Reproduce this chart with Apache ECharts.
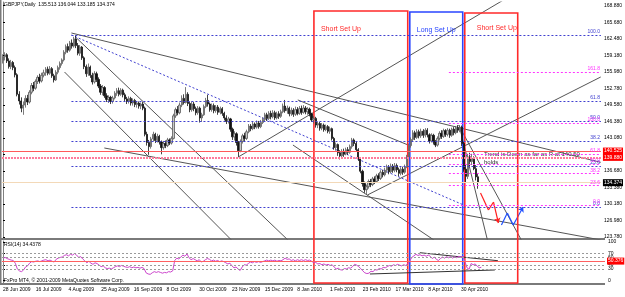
<!DOCTYPE html>
<html>
<head>
<meta charset="UTF-8">
<title>GBPJPY Daily</title>
<script src="https://cdn.jsdelivr.net/npm/echarts@6/dist/echarts.min.js"></script>
<style>html,body{margin:0;padding:0;background:#fff}</style>
</head>
<body>
<div id="main" style="width:625px;height:297px;"></div>
<script>
// bars: [open, close, low, high]
var candles = [
  [158.2,158.9,157.6,159.4],[158.9,159.3,158.2,159.8],[159.3,158.1,157.7,159.6],[158.1,157.0,156.6,158.6],[157.0,157.8,156.5,158.3],
  [157.8,156.8,156.3,158.1],[156.8,155.4,154.9,157.2],[155.4,151.6,151.2,155.7],[151.6,150.3,149.6,152.2],[150.3,148.9,148.1,151.0],
  [148.9,149.5,147.6,150.2],[149.5,150.8,149.0,151.4],[150.8,150.1,149.5,151.5],[150.1,152.0,149.8,152.4],[152.0,153.3,151.6,153.8],
  [153.3,152.8,152.2,154.0],[152.8,154.1,152.5,154.5],[154.1,154.9,153.6,155.3],[154.9,154.2,153.7,155.6],[154.2,155.3,153.9,155.8],
  [155.3,155.8,154.9,156.4],[155.8,156.5,155.2,156.9],[156.5,155.7,155.3,157.0],[155.7,156.6,155.4,157.1],[156.6,155.2,154.8,156.9],
  [155.2,154.4,153.9,155.6],[154.4,155.9,154.2,156.3],[155.9,156.8,155.5,157.2],[156.8,157.6,156.4,158.0],[157.6,158.3,157.2,158.6],
  [158.3,159.8,158.0,160.2],[159.8,160.9,159.4,161.3],[160.9,160.2,159.7,161.5],[160.2,161.6,159.9,162.0],[161.6,161.0,160.5,162.3],
  [161.0,162.4,160.7,162.8],[162.4,161.1,160.6,163.1],[161.1,159.6,159.2,161.6],[159.6,160.8,159.1,161.2],[160.8,158.7,158.3,161.0],
  [158.7,157.0,156.5,159.0],[157.0,155.6,155.0,157.4],[155.6,156.9,155.2,157.6],[156.9,155.3,154.8,157.2],[155.3,154.0,153.5,155.8],
  [154.0,155.6,153.7,156.1],[155.6,154.5,154.0,156.0],[154.5,153.2,152.8,154.9],[153.2,152.0,151.5,153.6],[152.0,152.9,151.4,153.4],
  [152.9,151.3,150.9,153.2],[151.3,150.6,150.1,151.8],[150.6,151.0,149.9,151.4],[151.0,150.2,149.7,151.3],[150.2,150.9,149.8,151.3],
  [150.9,151.8,150.6,152.2],[151.8,152.3,151.3,152.8],[152.3,151.6,151.2,152.9],[151.6,152.4,151.3,152.8],[152.4,151.5,151.0,152.7],
  [151.5,150.7,150.3,151.9],[150.7,150.2,149.7,151.1],[150.2,150.8,149.8,151.2],[150.8,149.9,149.4,151.1],[149.9,150.4,149.4,150.8],
  [150.4,149.6,149.1,150.7],[149.6,149.9,149.0,150.3],[149.9,149.3,148.8,150.2],[149.3,149.7,148.7,150.0],[149.7,148.9,148.5,150.1],
  [148.9,143.8,143.4,149.2],[143.8,142.2,141.6,144.3],[142.2,141.4,139.8,142.7],[141.4,142.9,141.0,143.3],[142.9,143.8,142.4,144.3],
  [143.8,142.6,142.1,144.1],[142.6,143.4,142.2,143.9],[143.4,142.3,141.8,143.7],[142.3,141.2,139.9,142.6],[141.2,142.0,140.8,142.5],
  [142.0,141.6,141.1,142.6],[141.6,142.7,141.3,143.1],[142.7,142.1,141.7,143.0],[142.1,143.0,141.8,143.4],[143.0,147.4,142.8,147.8],
  [147.4,148.6,147.0,149.0],[148.6,148.0,147.5,149.3],[148.0,149.5,147.7,150.0],[149.5,150.8,149.1,151.4],[150.8,150.0,149.6,151.6],
  [150.0,151.6,149.8,153.0],[151.6,149.8,149.3,152.0],[149.8,148.6,148.1,150.2],[148.6,149.7,148.2,150.2],[149.7,148.8,148.3,150.1],
  [148.8,148.0,147.5,149.2],[148.0,148.9,147.6,149.3],[148.9,147.0,146.1,149.2],[147.0,147.6,146.2,148.0],[147.6,149.2,147.4,149.6],
  [149.2,150.4,148.9,150.9],[150.4,149.7,149.2,151.5],[149.7,148.6,148.2,150.0],[148.6,149.4,148.2,149.8],[149.4,148.4,147.9,149.8],
  [148.4,149.1,148.0,149.5],[149.1,148.1,147.6,149.5],[148.1,148.8,147.7,149.2],[148.8,147.9,147.4,149.1],[147.9,147.0,146.5,148.2],
  [147.0,146.3,145.8,147.5],[146.3,146.8,145.9,147.2],[146.8,144.8,144.3,147.0],[144.8,143.3,142.7,145.1],[143.3,143.9,142.6,144.4],
  [143.9,142.2,141.6,144.2],[142.2,140.6,139.4,142.5],[140.6,142.4,140.3,142.8],[142.4,143.5,142.0,143.9],[143.5,143.0,142.5,144.1],
  [143.0,144.3,142.7,144.7],[144.3,145.4,144.0,145.8],[145.4,144.9,144.4,145.8],[144.9,145.8,144.6,146.2],[145.8,145.2,144.8,146.1],
  [145.2,146.0,144.9,146.5],[146.0,145.3,144.9,146.4],[145.3,146.1,145.0,146.6],[146.1,146.7,145.8,147.1],[146.7,147.6,146.3,148.0],
  [147.6,146.9,146.4,148.0],[146.9,147.9,146.6,148.3],[147.9,147.2,146.7,148.4],[147.2,148.0,146.9,148.5],[148.0,147.0,146.6,148.4],
  [147.0,147.8,146.7,148.2],[147.8,147.3,146.8,148.3],[147.3,148.2,147.0,148.6],[148.2,149.3,147.9,149.8],[149.3,148.4,148.0,150.5],
  [148.4,148.9,147.8,149.4],[148.9,147.8,147.3,149.2],[147.8,148.5,147.4,149.0],[148.5,147.7,147.2,148.9],[147.7,148.6,147.4,149.2],
  [148.6,147.9,147.5,149.1],[147.9,148.8,147.6,149.3],[148.8,148.1,147.6,149.4],[148.1,148.9,147.8,149.5],[148.9,148.2,147.7,149.3],
  [148.2,148.7,147.6,149.1],[148.7,147.8,147.3,149.0],[147.8,146.6,146.2,148.0],[146.6,146.9,145.9,147.4],[146.9,145.6,145.1,147.2],
  [145.6,145.9,145.0,146.3],[145.9,145.0,144.5,146.2],[145.0,145.6,144.6,146.0],[145.6,144.7,144.3,145.9],[144.7,145.3,144.4,145.7],
  [145.3,144.4,144.0,145.6],[144.4,144.9,143.9,145.3],[144.9,143.0,142.6,145.1],[143.0,141.2,140.8,143.3],[141.2,141.8,140.6,142.2],
  [141.8,140.2,139.6,142.0],[140.2,139.6,138.9,140.7],[139.6,140.5,139.2,140.9],[140.5,139.9,139.4,141.0],[140.0,140.8,139.7,141.2],
  [140.8,140.3,139.8,141.3],[140.3,141.4,140.0,141.8],[141.4,142.7,141.0,143.1],[142.7,142.0,141.5,143.0],[142.0,140.8,140.4,142.3],
  [140.8,139.0,138.6,141.1],[139.0,136.6,136.2,139.3],[136.6,134.2,133.6,136.9],[134.2,133.0,132.4,134.6],[133.0,133.6,132.0,134.0],
  [133.6,134.6,133.2,135.0],[134.6,134.0,133.5,135.1],[134.0,135.1,133.7,135.5],[135.1,134.6,134.1,135.6],[134.6,135.7,134.3,136.1],
  [135.7,135.2,134.7,136.2],[135.2,136.4,134.9,136.8],[136.4,135.9,135.4,136.9],[135.9,136.8,135.6,137.3],[136.8,137.4,136.3,137.9],
  [137.4,136.5,136.0,137.8],[136.5,137.6,136.2,138.1],[137.6,136.8,136.3,138.0],[136.8,137.7,136.4,138.2],[137.7,136.9,136.4,138.1],
  [136.9,136.2,135.6,137.3],[136.2,137.0,135.8,137.4],[137.0,136.4,135.9,137.5],[136.4,137.5,136.1,137.9],[137.5,139.4,137.2,139.8],
  [139.4,141.6,139.1,142.0],[141.6,142.8,141.2,143.2],[142.8,144.1,142.4,144.6],[144.1,143.2,142.7,144.5],[143.2,144.3,142.9,144.8],
  [144.3,143.5,143.0,144.7],[143.5,144.4,143.1,144.9],[144.4,143.6,143.1,144.8],[143.6,144.6,143.2,145.0],[144.6,143.7,143.2,145.0],
  [143.7,142.5,142.0,144.0],[142.5,143.6,142.2,144.0],[143.6,142.3,141.8,143.9],[142.3,141.7,141.3,142.7],[141.7,143.0,141.4,143.4],
  [143.0,144.0,142.6,144.4],[144.0,143.4,142.9,144.6],[143.4,144.5,143.1,144.9],[144.5,143.8,143.3,144.8],[143.8,144.6,143.4,145.0],
  [144.6,143.6,143.1,144.9],[143.6,144.8,143.3,145.1],[144.8,144.1,143.6,145.2],[144.1,145.0,143.8,145.4],[145.0,144.6,144.1,145.6],
  [144.6,145.2,144.2,145.6],[145.2,142.0,141.5,145.5],[142.0,137.0,136.5,142.3],[137.0,135.6,134.5,138.0],[135.6,139.4,135.1,140.0],
  [139.4,138.5,137.6,140.2],[138.5,139.1,137.8,140.0],[139.1,137.1,136.8,139.5],[137.1,135.5,134.8,137.8],[135.513,134.374,133.185,136.044]
];

var rsi = [
  58,60,57,55,53,52,45,30,25,23, 27,35,38,45,49,48,50,51,49,51,
  53,54,51,53,50,48,55,58,60,61, 65,67,64,68,66,70,66,60,62,56,
  51,46,50,45,42,46,44,40,36,38, 33,31,32,30,33,36,38,36,39,37,
  35,34,36,33,35,33,34,32,34,31, 20,17,16,20,23,21,23,21,19,21,
  20,23,22,25,52,58,56,61,66,63, 69,59,54,57,54,51,54,48,50,54,
  57,55,51,53,50,52,49,51,49,46, 43,45,38,33,35,30,26,35,41,40,
  44,48,46,49,47,49,47,49,51,53, 51,53,51,53,50,52,51,54,58,55,
  56,52,54,51,54,52,54,52,54,52, 53,50,46,47,43,44,41,43,40,42,
  39,41,35,30,32,28,27,31,30,33, 32,36,42,40,36,31,25,20,18,19,
  24,23,28,27,31,30,34,33,36,39, 37,41,39,42,40,38,41,39,43,51,
  60,64,68,65,67,64,66,63,66,63, 57,61,55,52,57,61,58,62,59,62,
  58,62,59,63,61,63,49,33,29,44, 41,43,37,33,34.4
];

var dateLabels = ['28 Jun 2009','16 Jul 2009','4 Aug 2009','25 Aug 2009','16 Sep 2009','8 Oct 2009','30 Oct 2009',
  '23 Nov 2009','15 Dec 2009','8 Jan 2010','1 Feb 2010','23 Feb 2010','17 Mar 2010','8 Apr 2010','30 Apr 2010'];
var barsPerLabel = 16;
var totalSlots = 295;

var priceTicks = [123.78,127.00,130.22,133.44,136.66,139.88,143.10,146.32,149.54,152.76,155.98,159.20,162.42,165.64,168.86];
var priceTickLabels = ['123.780','126.980','130.180','133.380','136.680','139.880','143.080','146.380','149.580','152.780','155.980','159.180','162.480','165.680','168.880'];
var rsiTicks = [0, 30, 40, 60, 70, 100];

// fibonacci retracements: [level name, price]
var fibBlue = [['100.0',163.16],['61.8',150.34],['50.0',146.38],['38.2',142.42],['23.6',137.52],['0.0',129.60]];
var fibBlueStart = 33.7;
var fibMagenta = [['161.8',155.89],['100.0',146.00],['61.8',139.89],['50.0',138.00],['38.2',136.11],['23.6',133.78],['0.0',130.00]];
var fibMagentaStart = 219.6;

// horizontal lines
var resistance = 140.525;
var resistance2 = 139.30;
var lastPrice = 134.374;
var rsiMid = 50.376;

// trend lines: [[bar, price], [bar, price]]
var trendLines = [
  [[33.7,163.55],[294.4,138.34]],
  [[36.2,162.57],[140.3,123.2]],
  [[30.3,155.94],[112.5,123.2]],
  [[49.9,141.13],[294.4,123.2]],
  [[115.9,139.38],[246.5,169.98]],
  [[142.8,141.71],[212.2,123.2]],
  [[145.2,150.5],[199.0,141.8]],
  [[179.5,131.97],[294.4,154.97]],
  [[224.4,145.6],[255.3,123.2]],
  [[224.9,145.2],[238.6,123.2]]
];
var fibBlueDiagonal = [[33.7,163.16],[229.3,129.6]];

// rsi trend lines: [[bar, rsi], [bar, rsi]]
var rsiLines = [
  [[203.9,72.2],[242.1,51.4]],
  [[179.5,16.9],[240.6,27.3]]
];

// setup boxes: [bar from, bar to, top price, bottom (extended scale)]
var boxes = [[152.1,198.0,167.83,114.81],[199.0,224.9,167.64,114.62],[225.9,251.8,167.45,114.81]];
var boxNames = ['Short Set Up','Long Set Up','Short Set Up'];
var boxColors = ['#ff2a2a','#2a46ff','#ff2a2a'];

// projected path
var redPath = [[235.2,132.36],[239.1,129.04],[241.6,130.6],[244.0,126.51]];
var bluePath = [[245.5,126.12],[248.4,128.46],[251.3,126.12],[256.2,129.63]];

var FONT = 'Liberation Sans, Arial, sans-serif';

var myChart = echarts.init(document.getElementById('main'));

var cats = [];
for (var i = 0; i < totalSlots; i++) cats.push(String(i));

function fibMarks(list, start, color) {
  return list.map(function (f) {
    return [
      {coord: [start, f[1]], label: {formatter: f[0]}, lineStyle: {color: color, width: 1, type: [2, 2]}},
      {coord: [totalSlots - 0.5, f[1]]}
    ];
  });
}

function pathSegments(path) {
  var out = [];
  for (var k = 0; k < path.length - 1; k++) {
    out.push({coords: [path[k], path[k + 1]], symbol: k === path.length - 2 ? ['none', 'arrow'] : ['none', 'none']});
  }
  return out;
}

function dotted(v) {
  return {yAxis: v, lineStyle: {color: '#9a9a9a', type: [2, 2], width: 1}};
}

var option = {
  animation: false,
  backgroundColor: '#ffffff',
  textStyle: {fontFamily: FONT},
  grid: [
    {left: 2, right: 20, top: 2, height: 237},
    {left: 2, right: 20, top: 241, height: 42},
    {left: 2, right: 20, top: 2, height: 282}
  ],
  xAxis: [
    {type: 'category', gridIndex: 0, data: cats, show: false},
    {type: 'value', gridIndex: 0, min: -0.5, max: totalSlots - 0.5, show: false},
    {
      type: 'category', gridIndex: 1, data: cats,
      axisLine: {show: false}, axisTick: {show: false},
      axisLabel: {
        interval: function (idx) { return idx % barsPerLabel === 0 && idx < candles.length; },
        formatter: function (v) { return dateLabels[Number(v) / barsPerLabel] || ''; },
        fontSize: 5, color: '#000', align: 'left', margin: 4, fontFamily: FONT
      }
    },
    {type: 'value', gridIndex: 1, min: -0.5, max: totalSlots - 0.5, show: false},
    {type: 'value', gridIndex: 2, min: -0.5, max: totalSlots - 0.5, show: false}
  ],
  yAxis: [
    {
      type: 'value', gridIndex: 0, position: 'right', min: 123.39, max: 169.59, scale: true,
      axisLine: {show: true, lineStyle: {color: '#808080'}},
      axisTick: {show: true, customValues: priceTicks, length: 2, lineStyle: {color: '#000'}},
      axisLabel: {
        customValues: priceTicks, fontSize: 5, color: '#000', margin: 3, fontFamily: FONT,
        formatter: function (v) {
          var k = priceTicks.indexOf(v);
          return k >= 0 ? priceTickLabels[k] : '';
        }
      },
      splitLine: {show: false}
    },
    {
      type: 'value', gridIndex: 1, position: 'right', min: -6.5, max: 102.6,
      axisLine: {show: true, lineStyle: {color: '#808080'}},
      axisTick: {show: true, customValues: rsiTicks, length: 2, lineStyle: {color: '#000'}},
      axisLabel: {customValues: rsiTicks, fontSize: 5, color: '#000', margin: 3, fontFamily: FONT},
      splitLine: {show: false}
    },
    {type: 'value', gridIndex: 2, min: 114.62, max: 169.59, show: false}
  ],
  graphic: [
    {type: 'rect', shape: {x: 0, y: 238, width: 605, height: 2}, style: {fill: '#7a7a7a'}, silent: true},
    {type: 'rect', shape: {x: 0, y: 283, width: 605, height: 2}, style: {fill: '#7a7a7a'}, silent: true},
    {type: 'rect', shape: {x: 0, y: 0, width: 1.5, height: 285}, style: {fill: '#7a7a7a'}, silent: true},
    {type: 'text', left: 4, top: 2, style: {text: 'GBPJPY,Daily  135.513 136.044 133.185 134.374', fontSize: 5, fill: '#000', fontFamily: FONT}},
    {type: 'text', left: 4, top: 242, style: {text: 'RSI(14) 34.4378', fontSize: 5, fill: '#000', fontFamily: FONT}},
    {type: 'text', left: 4, top: 278, style: {text: 'FxPro MT4, \u00a9 2001-2009 MetaQuotes Software Corp.', fontSize: 5, fill: '#000', fontFamily: FONT}},
    {type: 'text', left: 484, top: 150, style: {text: 'Trend is Down as far as R at 140.50\nholds', fontSize: 6, lineHeight: 8, fill: '#333', fontFamily: FONT}}
  ],
  series: [
    {
      type: 'candlestick', xAxisIndex: 0, yAxisIndex: 0, data: candles, barWidth: 1.8,
      itemStyle: {color: '#c8c8c8', color0: '#111111', borderColor: '#5a5a5a', borderColor0: '#111111', borderWidth: 0.8},
      markLine: {
        silent: true, symbol: ['none', 'none'],
        label: {position: 'end', fontSize: 5, color: '#fff', padding: [1, 1], distance: 2, fontFamily: FONT},
        data: [
          {yAxis: resistance, lineStyle: {color: '#ff5a5a', width: 1, type: 'solid'}, label: {formatter: '140.525', backgroundColor: '#ff0000'}},
          {yAxis: resistance2, lineStyle: {color: '#ff7c9c', width: 2, type: [2, 1]}, label: {formatter: '139.880', backgroundColor: '#ff0000'}},
          {yAxis: lastPrice, lineStyle: {color: '#f3d9b8', width: 1, type: 'solid'}, label: {formatter: '134.374', backgroundColor: '#000'}}
        ]
      }
    },
    {
      type: 'line', xAxisIndex: 1, yAxisIndex: 0, data: [], symbol: 'none', color: '#4040d0',
      markLine: {
        silent: true, symbol: ['none', 'none'],
        label: {position: 'insideEndTop', fontSize: 5, color: '#4040d0', distance: 1, fontFamily: FONT},
        data: fibMarks(fibBlue, fibBlueStart, '#4040d0')
      }
    },
    {
      type: 'line', xAxisIndex: 1, yAxisIndex: 0, data: [], symbol: 'none', color: '#ff33ff',
      markLine: {
        silent: true, symbol: ['none', 'none'],
        label: {position: 'insideEndTop', fontSize: 5, color: '#ff33ff', distance: 1, fontFamily: FONT},
        data: fibMarks(fibMagenta, fibMagentaStart, '#ff33ff')
      }
    },
    {
      type: 'lines', coordinateSystem: 'cartesian2d', xAxisIndex: 1, yAxisIndex: 0, clip: true, silent: true,
      lineStyle: {color: '#555', width: 1, opacity: 1},
      data: trendLines.map(function (l) { return {coords: l}; })
    },
    {
      type: 'lines', coordinateSystem: 'cartesian2d', xAxisIndex: 1, yAxisIndex: 0, clip: true, silent: true,
      lineStyle: {color: '#4040d0', width: 1, type: [2, 2], opacity: 1},
      data: [{coords: fibBlueDiagonal}]
    },
    {
      type: 'lines', coordinateSystem: 'cartesian2d', xAxisIndex: 1, yAxisIndex: 0, silent: true,
      symbolSize: 5, lineStyle: {color: '#ff2020', width: 1.2, opacity: 1},
      data: pathSegments(redPath)
    },
    {
      type: 'lines', coordinateSystem: 'cartesian2d', xAxisIndex: 1, yAxisIndex: 0, silent: true,
      symbolSize: 5, lineStyle: {color: '#2050ff', width: 1.2, opacity: 1},
      data: pathSegments(bluePath)
    },
    {
      type: 'custom', xAxisIndex: 4, yAxisIndex: 2, silent: true, clip: false,
      data: boxes,
      renderItem: function (params, api) {
        var k = params.dataIndex;
        var p1 = api.coord([api.value(0), api.value(2)]);
        var p2 = api.coord([api.value(1), api.value(3)]);
        return {
          type: 'group',
          children: [
            {type: 'rect', shape: {x: p1[0], y: p1[1], width: p2[0] - p1[0], height: p2[1] - p1[1]},
              style: {fill: 'none', stroke: boxColors[k], lineWidth: 1.6}},
            {type: 'text', x: p1[0] + (k === 2 ? 12 : 7), y: p1[1] + (k === 2 ? 15 : 18),
              style: {text: boxNames[k], fontSize: 7, fill: boxColors[k], verticalAlign: 'middle', fontFamily: FONT}}
          ]
        };
      }
    },
    {
      type: 'line', xAxisIndex: 2, yAxisIndex: 1, data: rsi, symbol: 'none',
      lineStyle: {color: '#cc44cc', width: 1},
      markLine: {
        silent: true, symbol: ['none', 'none'],
        label: {show: false},
        data: [
          dotted(70), dotted(60), dotted(40), dotted(30),
          {yAxis: rsiMid, lineStyle: {color: '#ff6060', type: 'solid', width: 1},
            label: {show: true, position: 'end', formatter: '50.376', fontSize: 5, color: '#fff', backgroundColor: '#ff0000', padding: [1, 1], distance: 2}}
        ]
      }
    },
    {
      type: 'lines', coordinateSystem: 'cartesian2d', xAxisIndex: 3, yAxisIndex: 1, silent: true,
      lineStyle: {color: '#333', width: 1, opacity: 1},
      data: rsiLines.map(function (l) { return {coords: l}; })
    }
  ]
};

myChart.setOption(option);
</script>
</body>
</html>
